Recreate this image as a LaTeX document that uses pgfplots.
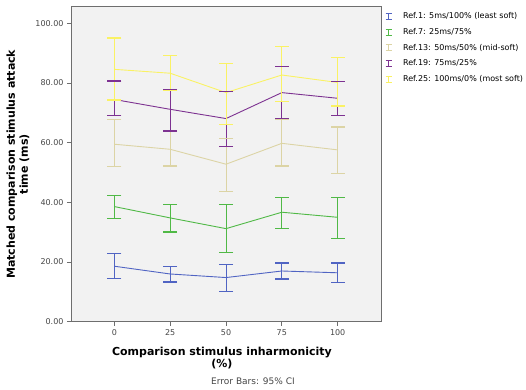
\documentclass[border=0pt]{standalone}
\usepackage{pgfplots}
\usepackage{pgfplotstable}
\pgfplotsset{compat=1.18}
\usepackage{fontspec}
\setmainfont{DejaVu Sans}
\definecolor{cblue}{RGB}{80,100,195}
\definecolor{cgreen}{RGB}{80,185,70}
\definecolor{cbeige}{RGB}{220,212,165}
\definecolor{cpurple}{RGB}{125,50,145}
\definecolor{cyellow}{RGB}{250,242,100}
\definecolor{framegray}{RGB}{110,110,110}
\definecolor{bg}{RGB}{242,242,242}
\definecolor{ticktext}{RGB}{70,70,70}
% x  mean  upper  lower
\pgfplotstableread{
x   y     hi    lo
0   18.6  22.8  14.4
25  16.0  18.6  13.3
50  14.8  19.2  10.1
75  17.0  19.7  14.3
100 16.4  19.7  13.1
}\tblue
\pgfplotstableread{
x   y     hi    lo
0   38.6  42.4  34.5
25  34.8  39.4  30.1
50  31.2  39.2  23.3
75  36.7  41.6  31.2
100 35.0  41.6  27.8
}\tgreen
\pgfplotstableread{
x   y     hi    lo
0   59.5  67.8  51.9
25  57.8  63.7  52.2
50  52.8  61.5  43.6
75  59.8  67.8  52.2
100 57.6  65.3  49.6
}\tbeige
\pgfplotstableread{
x   y     hi    lo
0   74.5  80.7  69.0
25  71.2  77.9  63.9
50  68.1  77.2  58.7
75  76.8  85.6  68.1
100 74.9  80.5  69.2
}\tpurple
\pgfplotstableread{
x   y     hi    lo
0   84.6  95.1  74.3
25  83.3  89.3  77.4
50  76.8  86.5  66.2
75  82.7  92.2  73.8
100 80.2  88.5  72.3
}\tyellow
\pgfplotsset{
  ser/.style={#1, line width=0.9pt, mark=none,
    error bars/y dir=both, error bars/y explicit,
    error bars/error mark=none,
    error bars/error bar style={#1, line width=0.9pt}},
  cap/.style={#1, only marks, mark=-, mark size=7pt, mark options={#1, line width=1.2pt}, forget plot},
}
\newcommand{\series}[3]{%
  \addplot[ser=#2] table[x=x, y=y, y error plus expr=\thisrow{hi}-\thisrow{y}, y error minus expr=\thisrow{y}-\thisrow{lo}] {#1};
  \addlegendentry{#3}
  \addplot[cap=#2] table[x=x, y=hi] {#1};
  \addplot[cap=#2] table[x=x, y=lo] {#1};
}
\begin{document}
\begin{tikzpicture}
\begin{axis}[
  name=ax,
  scale only axis,
  width=310pt, height=315pt,
  xmin=-19.4, xmax=119.4,
  ymin=0, ymax=105.6,
  xtick={0,25,50,75,100},
  ytick={0,20,40,60,80,100},
  axis background/.style={fill=bg},
  axis line style={framegray, line width=0.9pt},
  tick style={framegray, line width=0.7pt},
  tick align=outside,
  major tick length=4pt,
  xtick pos=bottom, ytick pos=left,
  /pgf/number format/assume math mode=true,
  yticklabel style={/pgf/number format/.cd, fixed, fixed zerofill, precision=2},
  ticklabel style={font=\fontsize{8}{9}\selectfont, text=ticktext},
  xlabel={Comparison stimulus inharmonicity\\(\%)},
  xlabel style={font=\bfseries\fontsize{11}{10}\selectfont, align=center, at={(axis description cs:0.487,0)}, anchor=north, yshift=-22pt},
  ylabel={Matched comparison stimulus attack\\time (ms)},
  ylabel style={font=\bfseries\fontsize{11}{13}\selectfont, align=center, at={(axis description cs:-0.171,0.5)}, anchor=center},
  legend style={at={(rel axis cs:1,1)}, anchor=north west, xshift=3pt, yshift=-3pt, draw=none, fill=none,
    font=\fontsize{8}{9.5}\selectfont, row sep=4pt, inner sep=1pt},
  legend cell align=left,
  legend image code/.code={\draw[#1, line width=0.8pt] (3pt,-3pt)--(3pt,3pt) (0pt,-3pt)--(6pt,-3pt) (0pt,3pt)--(6pt,3pt); \path (0pt,0pt) (15pt,0pt);},
]
\series{\tblue}{cblue}{Ref.1: 5ms/100\% (least soft)}
\series{\tgreen}{cgreen}{Ref.7: 25ms/75\%}
\series{\tbeige}{cbeige}{Ref.13: 50ms/50\% (mid-soft)}
\series{\tpurple}{cpurple}{Ref.19: 75ms/25\%}
\series{\tyellow}{cyellow}{Ref.25: 100ms/0\% (most soft)}
\end{axis}
\path (ax.south west) ++(182pt,-59.5pt) node[font=\fontsize{9}{10}\selectfont, text=ticktext] {Error Bars: 95\% CI};
\pgfresetboundingbox
\path[use as bounding box] (ax.south west) ++(-71pt,-67.3pt) rectangle ++(526pt,389pt);
\end{tikzpicture}
\end{document}
